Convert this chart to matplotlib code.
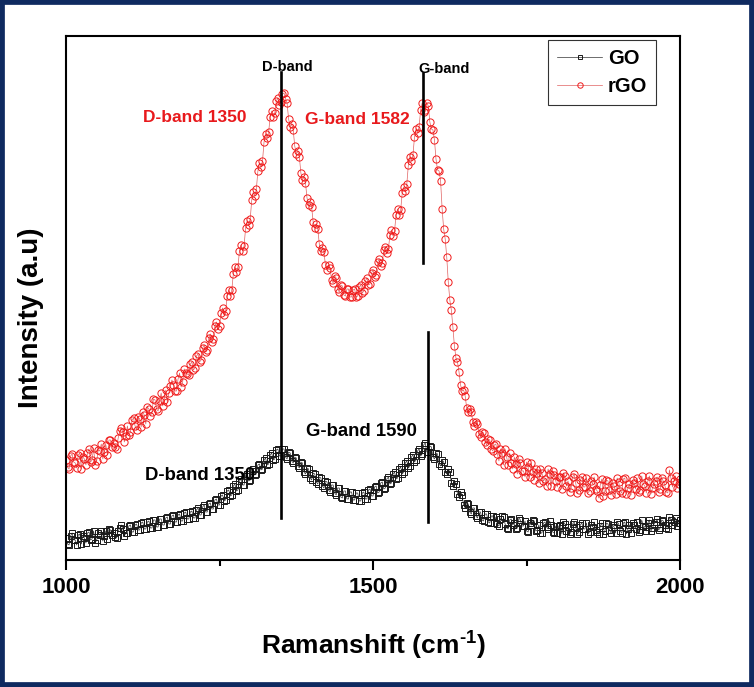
import numpy as np
import matplotlib
matplotlib.use("Agg")
import matplotlib.pyplot as plt
from matplotlib.patches import Rectangle

plt.rcParams['font.family'] = ['Liberation Sans', 'DejaVu Sans']
plt.rcParams['font.weight'] = 'bold'
plt.rcParams['axes.labelweight'] = 'bold'
plt.rcParams['mathtext.fontset'] = 'custom'
plt.rcParams['mathtext.bf'] = 'Liberation Sans:bold'
plt.rcParams['mathtext.rm'] = 'Liberation Sans:bold'
plt.rcParams['mathtext.default'] = 'bf'

# Raman shift (cm-1): readings every 5 cm-1 plus the points half way between
shift = np.arange(1000, 2001, 5)
shift_mid = np.arange(1002.5, 2000, 5)

# GO spectrum (a.u.)
go = [22, 15, 27, 20, 25, 16, 22, 27, 20, 29, 20, 25, 19, 29, 31, 25, 23, 29, 35, 24,
      27, 35, 28, 36, 30, 38, 31, 39, 32, 40, 33, 41, 35, 43, 36, 45, 38, 46, 39, 48,
      41, 49, 42, 52, 45, 55, 48, 57, 51, 61, 55, 65, 60, 70, 65, 76, 70, 81, 75, 86,
      80, 91, 86, 96, 91, 102, 96, 107, 101, 111, 104, 111, 101, 107, 97, 102, 92, 97, 86, 91,
      80, 86, 76, 82, 72, 78, 68, 75, 65, 72, 62, 69, 61, 68, 60, 67, 59, 68, 61, 71,
      64, 74, 68, 78, 72, 83, 77, 88, 82, 93, 88, 99, 94, 105, 100, 111, 106, 117, 108, 113,
      101, 106, 94, 98, 86, 88, 74, 76, 63, 65, 52, 56, 46, 52, 42, 48, 39, 46, 37, 44,
      43, 34, 44, 36, 31, 41, 37, 32, 40, 34, 29, 37, 40, 29, 35, 27, 38, 31, 35, 27,
      27, 35, 38, 29, 26, 36, 33, 28, 37, 31, 26, 35, 38, 28, 34, 26, 37, 30, 35, 27,
      36, 27, 38, 31, 27, 35, 38, 30, 34, 29, 40, 32, 38, 30, 40, 35, 31, 40, 38, 34, 40]
go_mid = [16, 24, 20, 15, 26, 24, 17, 28, 21, 17, 27, 29, 24, 21, 30, 27, 22, 32, 31, 27,
          34, 28, 35, 30, 37, 31, 38, 32, 40, 33, 41, 35, 42, 36, 44, 38, 45, 39, 47, 41,
          48, 42, 50, 45, 53, 48, 56, 51, 60, 55, 64, 59, 69, 64, 74, 69, 79, 75, 84, 79,
          89, 85, 95, 90, 100, 95, 105, 100, 110, 104, 111, 103, 108, 99, 103, 94, 98, 88, 92, 82,
          87, 78, 83, 74, 79, 70, 75, 67, 72, 63, 69, 61, 68, 60, 67, 59, 67, 61, 70, 64,
          73, 67, 77, 71, 81, 76, 86, 81, 91, 86, 97, 92, 103, 98, 109, 104, 115, 108, 114, 103,
          107, 96, 100, 88, 91, 77, 79, 66, 68, 55, 57, 48, 52, 44, 48, 40, 46, 38, 44, 37,
          36, 41, 43, 32, 40, 35, 31, 42, 34, 39, 28, 35, 39, 30, 27, 37, 33, 39, 28, 34,
          34, 26, 36, 33, 28, 38, 26, 35, 31, 37, 28, 33, 30, 26, 37, 29, 36, 27, 33, 38,
          29, 37, 26, 35, 37, 31, 28, 40, 33, 37, 29, 36, 41, 32, 39, 32, 43, 35, 42, 37]

# rGO spectrum (a.u.)
rgo = [100, 91, 106, 97, 105, 91, 101, 107, 98, 112, 99, 109, 101, 115, 120, 113, 113, 122, 132, 118,
       134, 128, 142, 130, 141, 148, 136, 151, 148, 160, 149, 167, 160, 158, 174, 175, 169, 187, 178, 187,
       185, 198, 192, 206, 200, 215, 210, 226, 221, 238, 234, 252, 249, 270, 270, 293, 293, 315, 314, 339,
       341, 368, 371, 397, 399, 426, 428, 449, 447, 462, 458, 467, 457, 433, 430, 406, 403, 380, 377, 355,
       353, 332, 331, 309, 308, 290, 292, 277, 282, 268, 274, 264, 271, 263, 271, 264, 275, 269, 282, 276,
       290, 285, 301, 297, 313, 311, 330, 329, 351, 350, 373, 376, 403, 405, 431, 433, 457, 450, 454, 431,
       420, 390, 379, 331, 303, 260, 233, 202, 188, 169, 164, 148, 148, 134, 136, 123, 127, 115, 120, 109,
       116, 99, 107, 111, 95, 97, 103, 86, 97, 89, 98, 83, 88, 91, 77, 87, 81, 91, 74, 85,
       73, 83, 87, 74, 68, 83, 77, 70, 83, 73, 67, 79, 83, 69, 75, 64, 80, 70, 77, 66,
       78, 67, 82, 72, 65, 77, 82, 70, 76, 67, 84, 72, 79, 68, 82, 75, 67, 82, 79, 72, 81]
rgo_mid = [93, 104, 98, 92, 107, 103, 95, 111, 100, 95, 110, 116, 108, 105, 120, 117, 111, 129, 128, 124,
           125, 140, 134, 143, 133, 145, 153, 144, 161, 151, 159, 154, 170, 167, 180, 169, 181, 173, 191, 186,
           196, 190, 204, 198, 212, 208, 222, 218, 234, 231, 247, 245, 264, 264, 286, 288, 309, 309, 332, 335,
           360, 364, 389, 393, 418, 422, 443, 443, 459, 455, 466, 461, 441, 436, 414, 409, 387, 383, 362, 358,
           338, 336, 316, 312, 295, 295, 280, 284, 271, 275, 265, 271, 263, 270, 263, 273, 267, 279, 275, 287,
           283, 298, 294, 310, 307, 325, 324, 345, 345, 367, 369, 395, 399, 423, 427, 450, 448, 457, 438, 430,
           401, 389, 351, 321, 278, 250, 214, 198, 175, 170, 152, 151, 138, 138, 126, 128, 118, 121, 111, 115,
           106, 111, 95, 103, 107, 91, 96, 101, 89, 83, 93, 97, 80, 87, 91, 79, 74, 86, 89, 79,
           83, 71, 84, 79, 72, 86, 67, 80, 73, 82, 69, 76, 71, 62, 81, 69, 79, 65, 74, 82,
           69, 81, 66, 76, 80, 71, 68, 84, 74, 79, 66, 76, 83, 71, 79, 68, 90, 73, 84, 76]

series_names = ['GO', 'rGO']
d_band = 1350
g_band_go = 1590
g_band_rgo = 1582


def merge(main, mid):
    # put the half-way readings between the 5 cm-1 readings
    out = np.empty(len(main) + len(mid))
    out[0::2] = main
    out[1::2] = mid
    return out


x_all = merge(shift, shift_mid)
go_all = merge(go, go_mid)
rgo_all = merge(rgo, rgo_mid)

fig = plt.figure(figsize=(7.54, 6.87), dpi=100)
ax = fig.add_axes([0.0875, 0.1849, 0.8145, 0.7627])

ax.plot(x_all, go_all, color='#333333', lw=0.5, marker='s', ms=4.6, mfc='none',
        mec='#1a1a1a', mew=0.7, label=series_names[0])
ax.plot(x_all, rgo_all, color='#e06060', lw=0.5, marker='o', ms=5.2, mfc='none',
        mec='#f01c1c', mew=0.7, label=series_names[1])

# band marker lines
ax.plot([d_band, d_band], [42, 488], color='black', lw=1.9, zorder=5)
ax.plot([g_band_rgo, g_band_rgo], [297, 487], color='black', lw=1.9, zorder=5)
ax.plot([g_band_go, g_band_go], [38, 228], color='black', lw=1.9, zorder=5)

ax.text(1360, 493, 'D-band', fontsize=10.5, ha='center', va='center')
ax.text(1616, 491, 'G-band', fontsize=10.5, ha='center', va='center')
ax.text(1209, 442, 'D-band 1350', fontsize=12.5, color='#e8191c', ha='center', va='center')
ax.text(1475, 440, 'G-band 1582', fontsize=12.5, color='#e8191c', ha='center', va='center')
ax.text(1219, 84, 'D-band 1350', fontsize=13.3, ha='center', va='center')
ax.text(1481, 128, 'G-band 1590', fontsize=13.3, ha='center', va='center')

ax.set_xlim(1000, 2000)
ax.set_ylim(0, 524)
ax.set_xticks([1000, 1500, 2000])
ax.set_xticks([1250, 1750], minor=True)
ax.tick_params(axis='x', which='major', direction='out', length=7, width=1.5,
               labelsize=16, pad=5)
ax.tick_params(axis='x', which='minor', direction='out', length=4.5, width=1.5)
ax.set_yticks([])
for sp in ax.spines.values():
    sp.set_linewidth(1.5)

ax.set_xlabel(r'Ramanshift (cm$^{\text{-}1}$)', fontsize=19, labelpad=23)
ax.set_ylabel('Intensity (a.u)', fontsize=20)
ax.yaxis.set_label_coords(-0.036, 0.462)

leg = ax.legend(loc='upper right', bbox_to_anchor=(0.961, 0.992), borderaxespad=0,
                fancybox=False, edgecolor='black', fontsize=14.5, handlelength=2.2,
                markerscale=0.75, borderpad=0.45, labelspacing=0.45, handletextpad=0.3)
leg.get_frame().set_linewidth(0.8)

# dark blue frame round the picture
fig.patches.append(Rectangle((0, 0), 1, 1, transform=fig.transFigure, fill=False,
                             edgecolor='#0f2a60', linewidth=7))

fig.savefig('out.png', dpi=100, facecolor='white')
